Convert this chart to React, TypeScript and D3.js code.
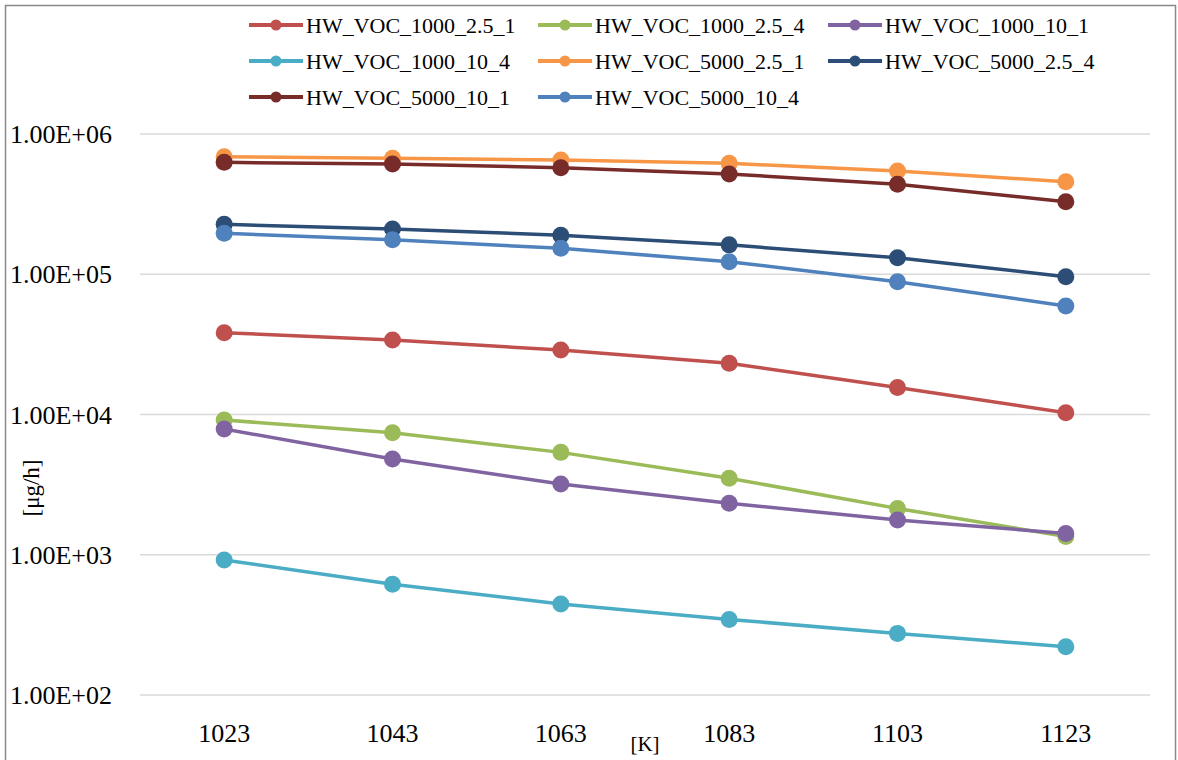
import React, { useEffect, useRef } from "react";
import * as d3 from "d3";

// temperatures on the x axis
const temps = ["1023", "1043", "1063", "1083", "1103", "1123"];

// series
const seriesNames = [
  "HW_VOC_1000_2.5_1",
  "HW_VOC_1000_2.5_4",
  "HW_VOC_1000_10_1",
  "HW_VOC_1000_10_4",
  "HW_VOC_5000_2.5_1",
  "HW_VOC_5000_2.5_4",
  "HW_VOC_5000_10_1",
  "HW_VOC_5000_10_4",
];
const voc1000_25_1 = [38300, 34000, 28800, 23200, 15600, 10300];
const voc1000_25_4 = [9140, 7420, 5370, 3510, 2140, 1350];
const voc1000_10_1 = [7880, 4820, 3190, 2330, 1770, 1420];
const voc1000_10_4 = [918, 616, 446, 346, 275, 221];
const voc5000_25_1 = [689000, 671000, 653000, 618000, 545000, 457000];
const voc5000_25_4 = [227000, 210000, 190000, 162000, 131000, 96100];
const voc5000_10_1 = [628000, 611000, 575000, 519000, 438000, 329000];
const voc5000_10_4 = [196000, 176000, 153000, 123000, 88500, 59400];

const seriesValues = [
  voc1000_25_1, voc1000_25_4, voc1000_10_1, voc1000_10_4,
  voc5000_25_1, voc5000_25_4, voc5000_10_1, voc5000_10_4,
];
const colors = [
  "#C0504D", "#9BBB59", "#8064A2", "#4BACC6",
  "#F79646", "#2C4D75", "#772C2A", "#4F81BD",
];
const yTicks = [1e2, 1e3, 1e4, 1e5, 1e6];

const font = "'Liberation Serif', 'Times New Roman', serif";

export default function App() {
  const ref = useRef<SVGSVGElement>(null);

  useEffect(() => {
    const svg = d3.select(ref.current);
    svg.selectAll("*").remove();

    // outer frame
    svg.append("rect")
      .attr("x", 5.5).attr("y", 5.5)
      .attr("width", 1170).attr("height", 820)
      .attr("fill", "white")
      .attr("stroke", "#898989")
      .attr("stroke-width", 1.5);

    const x = d3.scalePoint().domain(temps).range([140, 1150]).padding(0.5);
    const y = d3.scaleLog().domain([100, 1e6]).range([695, 134]);

    // gridlines + y labels
    svg.selectAll(".grid")
      .data(yTicks)
      .enter()
      .append("line")
      .attr("x1", 140).attr("x2", 1150)
      .attr("y1", d => y(d)).attr("y2", d => y(d))
      .attr("stroke", "#d9d9d9")
      .attr("stroke-width", 1.5);

    svg.selectAll(".ylab")
      .data(yTicks)
      .enter()
      .append("text")
      .attr("x", 112)
      .attr("y", d => y(d))
      .attr("dy", "0.35em")
      .attr("text-anchor", "end")
      .attr("font-family", font)
      .attr("font-size", 26)
      .text(d => d3.format(".2e")(d).toUpperCase().replace(/E\+(\d)$/, "E+0$1"));

    // x labels
    svg.selectAll(".xlab")
      .data(temps)
      .enter()
      .append("text")
      .attr("x", d => x(d) as number)
      .attr("y", 742)
      .attr("text-anchor", "middle")
      .attr("font-family", font)
      .attr("font-size", 26)
      .text(d => d);

    // axis titles
    svg.append("text")
      .attr("x", 645).attr("y", 751)
      .attr("text-anchor", "middle")
      .attr("font-family", font)
      .attr("font-size", 21)
      .text("[K]");

    svg.append("text")
      .attr("transform", "translate(39,488) rotate(-90)")
      .attr("text-anchor", "middle")
      .attr("font-family", font)
      .attr("font-size", 23)
      .text("[μg/h]");

    // lines and markers
    const line = d3.line<number>()
      .x((d, i) => x(temps[i]) as number)
      .y(d => y(d));

    seriesValues.forEach((vals, s) => {
      const g = svg.append("g");
      g.append("path")
        .attr("d", line(vals))
        .attr("fill", "none")
        .attr("stroke", colors[s])
        .attr("stroke-width", 3.5)
        .attr("stroke-linejoin", "round");
      g.selectAll("circle")
        .data(vals)
        .enter()
        .append("circle")
        .attr("cx", (d, i) => x(temps[i]) as number)
        .attr("cy", d => y(d))
        .attr("r", 8.5)
        .attr("fill", colors[s]);
    });

    // legend, 3 columns
    const colX = [249, 538, 828];
    const rowY = [25, 61, 97];
    seriesNames.forEach((name, i) => {
      const lx = colX[i % 3];
      const ly = rowY[Math.floor(i / 3)];
      const g = svg.append("g");
      g.append("line")
        .attr("x1", lx).attr("x2", lx + 54)
        .attr("y1", ly).attr("y2", ly)
        .attr("stroke", colors[i])
        .attr("stroke-width", 4);
      g.append("circle")
        .attr("cx", lx + 27).attr("cy", ly)
        .attr("r", 5.5)
        .attr("fill", colors[i]);
      g.append("text")
        .attr("x", lx + 57).attr("y", ly)
        .attr("dy", "0.35em")
        .attr("font-family", font)
        .attr("font-size", 22)
        .text(name);
    });
  }, []);

  return (
    <div style={{ position: "fixed", left: 0, top: 0 }}>
      <svg ref={ref} width={1178} height={760} style={{ display: "block" }} />
    </div>
  );
}
